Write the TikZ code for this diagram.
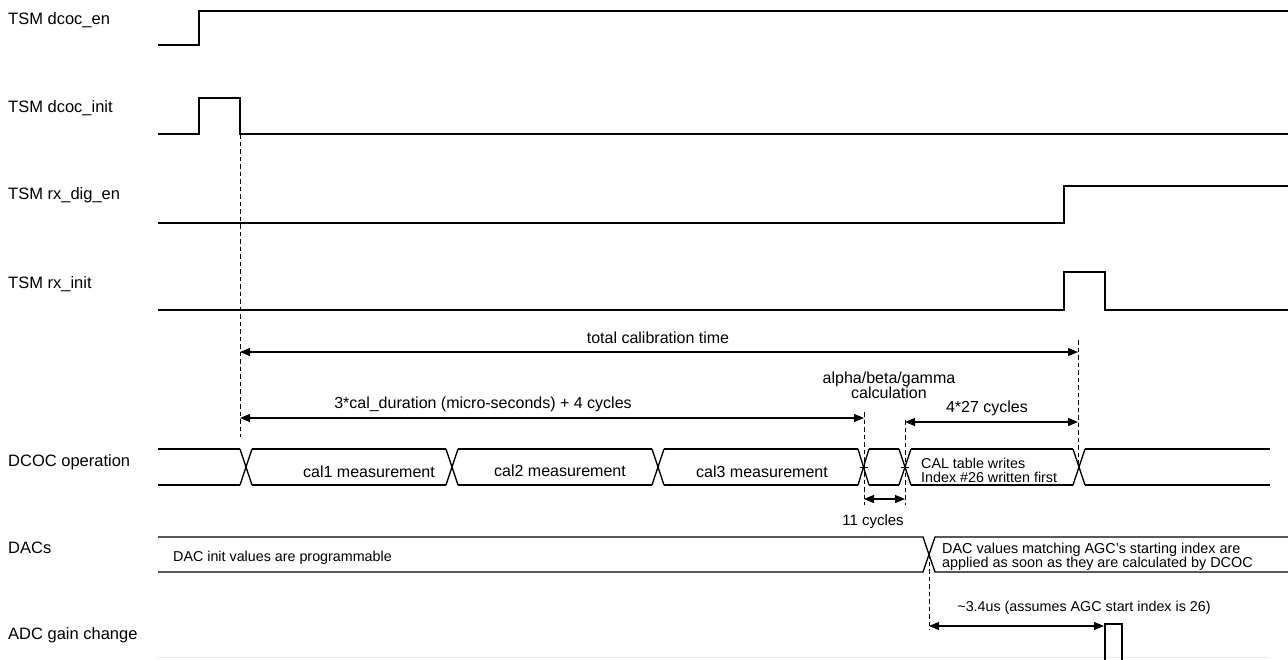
\documentclass[tikz,border=0pt]{standalone}
\usepackage{fontspec}
\setmainfont{Liberation Sans}
\usetikzlibrary{arrows.meta}
\begin{document}
\begin{tikzpicture}[x=1pt,y=-1pt,
  sig/.style={line width=1.3pt, line join=miter},
  guide/.style={line width=1pt, dash pattern=on 4.5pt off 3pt},
  dim/.style={line width=1.2pt, {Triangle[length=10pt,width=8pt]}-{Triangle[length=10pt,width=8pt]}},
  big/.style={font=\fontsize{16}{18}\selectfont, inner sep=0pt},
  small/.style={font=\fontsize{14.3}{14}\selectfont, inner sep=0pt, align=left},
  lbl/.style={font=\fontsize{16.5}{18}\selectfont, inner sep=0pt, anchor=west}]
\useasboundingbox (0,0) rectangle (1288,659);

% signal names
\node[lbl] (n1) at (8,20) {TSM dcoc\_en};
\node[lbl] (n2) at (8,108) {TSM dcoc\_init};
\node[lbl] (n3) at (8,195) {TSM rx\_dig\_en};
\node[lbl] (n4) at (8,284) {TSM rx\_init};
\node[lbl] (n5) at (8,462) {DCOC operation};
\node[lbl] (n6) at (8,548) {DACs};
\node[lbl] (n7) at (8,635) {ADC gain change};

% digital waveforms
\draw[sig] (158,45) -- (199,45) -- (199,11) -- (1288,11);
\draw[sig] (158,134) -- (199,134) -- (199,98) -- (240,98) -- (240,134) -- (1288,134);
\draw[sig] (158,223) -- (1064,223) -- (1064,186) -- (1288,186);
\draw[sig] (158,310) -- (1064,310) -- (1064,272) -- (1105,272) -- (1105,310) -- (1288,310);

% DCOC operation bus
\foreach \s/\e in {158/240, 252/446, 458/652, 664/858, 869/899, 911/1073, 1085/1270}{
  \draw[sig] (\s,449) -- (\e,449);
  \draw[sig] (\s,485) -- (\e,485);
}
\foreach \a/\b in {240/252, 446/458, 652/664, 858/869, 899/911, 1073/1085}{
  \draw[sig] (\a,449) -- (\b,485);
  \draw[sig] (\a,485) -- (\b,449);
}
\draw[line width=1pt] (860,467) -- (868,467);
\draw[line width=1pt] (901,467) -- (909,467);

\node[big] (c1) at (369,472) {cal1 measurement};
\node[big] (c2) at (560,471) {cal2 measurement};
\node[big] (c3) at (762,472) {cal3 measurement};
\node[small, anchor=west] (ct) at (921,470) {CAL table writes\\Index \#26 written first};

% DACs bus
\draw[sig] (158,537) -- (923,537) -- (935,572) -- (1288,572);
\draw[sig] (158,572) -- (923,572) -- (935,537) -- (1288,537);
\node[small, anchor=west] (d1) at (173,558) {DAC init values are programmable};
\node[small, anchor=west, font=\fontsize{14.4}{12.5}\selectfont] (d2) at (942,557) {DAC values matching AGC's starting index are\\applied as soon as they are calculated by DCOC};

% ADC gain change
\draw[line width=1pt, gray!15] (158,657.5) -- (1270,657.5);
\draw[sig] (1105,662) -- (1105,624) -- (1122,624) -- (1122,662);

% guides
\coordinate (gA) at (240,437);
\coordinate (gB1) at (1078,340);
\coordinate (gB2) at (1078,470);
\draw[guide] (240,134) -- (gA);
\draw[guide] (gB1) -- (gB2);
\draw[guide] (864,412) -- (864,505);
\draw[guide] (905,420) -- (905,505);
\draw[guide] (929,554) -- (929,630);

% dimensions
\draw[dim] (240,352) -- (1078,352);
\node[big] (t1) at (658,338) {total calibration time};
\draw[dim] (240,418) -- (864,418);
\node[big] (t2) at (483,404) {3*cal\_duration (micro-seconds) + 4 cycles};
\node[big, align=center, font=\fontsize{16}{15}\selectfont] (t3) at (889,385) {alpha/beta/gamma\\calculation};
\draw[dim] (905,422) -- (1078,422);
\node[big] (t4) at (987,408) {4*27 cycles};
\draw[dim] (864,499) -- (905,499);
\node[big, font=\fontsize{15}{16}\selectfont] (t5) at (873,522) {11 cycles};
\draw[dim] (929,626) -- (1104,626);
\node[small] (t6) at (1084,608) {\textasciitilde3.4us (assumes AGC start index is 26)};
\end{tikzpicture}
\end{document}
